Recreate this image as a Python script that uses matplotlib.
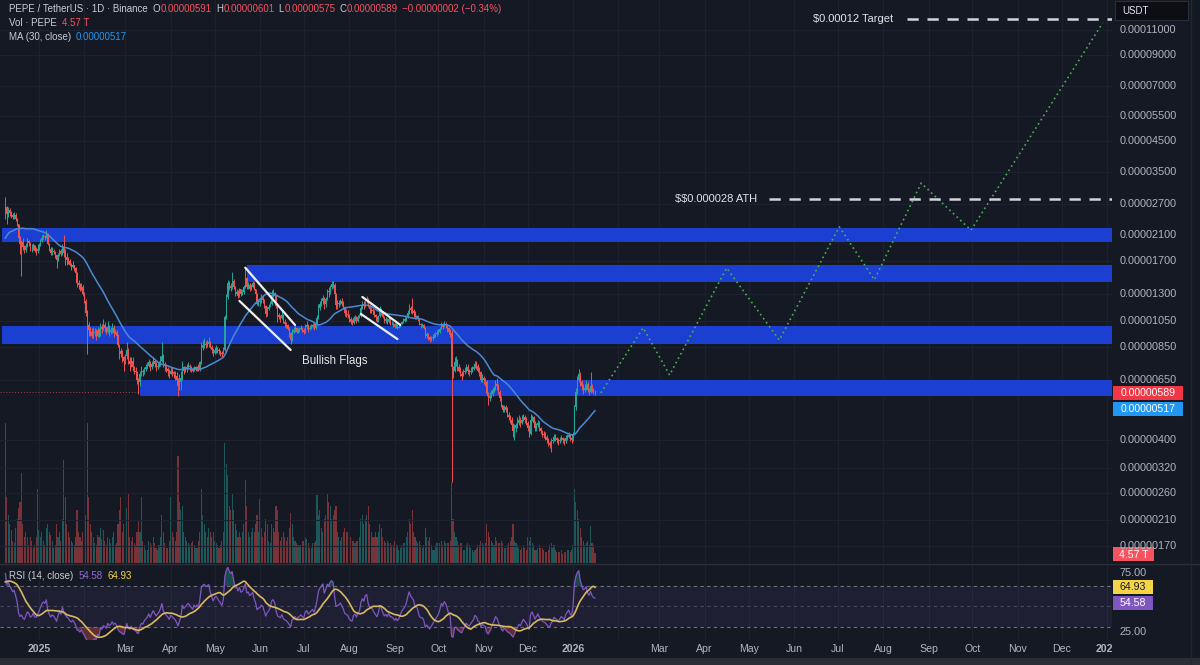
import datetime as dt
import numpy as np
import pandas as pd
import matplotlib
matplotlib.use("Agg")
import matplotlib.pyplot as plt
import matplotlib.dates as mdates
from matplotlib.patches import Rectangle
from matplotlib.colors import to_rgba
from matplotlib.transforms import Bbox

plt.rcParams['font.family'] = ['Liberation Sans', 'DejaVu Sans']

# ------------------------------------------------------------------ data
UNIT = 1e-8            # prices below are in units of 1e-8 USDT
first_day = "2024-12-09"

# closes Nov 9 - Dec 8 2024 (off-screen, only seed the MA / RSI)
warmup_close = [1150, 1200, 1500, 1750, 2100, 2200, 2050, 1900, 1950, 1980,
                1900, 1850, 1900, 2000, 2050, 2020, 1900, 1850, 1950, 2000,
                2050, 2100, 2200, 2150, 2200, 2250, 2300, 2350, 2500, 2550]

close = [
    # Dec 2024 (9-31)
    2620, 2480, 2560, 2500, 2470, 2420, 2460, 2380, 2290, 2050, 1950, 1980, 1900, 1860, 1920,
    1990, 1960, 1870, 1880, 1930, 1850, 1840, 1880,
    # Jan 2025
    1930, 1990, 2050, 2080, 2060, 2120, 1950, 1880, 1820, 1850, 1830, 1780, 1720, 1790, 1850,
    1800, 1900, 1820, 1760, 1720, 1700, 1650, 1620, 1640, 1600, 1540, 1420, 1400, 1360, 1380, 1300,
    # Feb
    1230, 1120, 1010, 970, 960, 930, 950, 960, 930, 970, 940, 1000, 980, 1010, 990,
    960, 1000, 960, 970, 990, 950, 960, 930, 860, 820, 800, 780, 760,
    # Mar
    790, 830, 760, 740, 760, 720, 700, 690, 650, 640, 680, 700, 690, 710, 720,
    730, 750, 720, 740, 760, 740, 720, 730, 740, 760, 790, 740, 730, 710, 700, 680,
    # Apr
    700, 690, 680, 670, 650, 620, 640, 660, 720, 700, 710, 720, 730, 720, 710,
    700, 720, 710, 720, 710, 750, 840, 860, 870, 860, 870, 880, 850, 830, 810,
    # May
    830, 840, 830, 820, 810, 800, 830, 1080, 1270, 1420, 1390, 1370, 1450, 1380, 1300,
    1320, 1280, 1350, 1300, 1320, 1380, 1480, 1380, 1400, 1360, 1380, 1420, 1350, 1300, 1200, 1220,
    # Jun
    1230, 1260, 1240, 1180, 1110, 1150, 1170, 1200, 1290, 1310, 1280, 1180, 1100, 1080, 1070,
    1100, 1040, 1020, 1010, 980, 950, 900, 960, 970, 990, 960, 970, 980, 990, 970,
    # Jul
    960, 1000, 1010, 980, 990, 1000, 1010, 990, 1020, 1070, 1160, 1200, 1230, 1260, 1200,
    1250, 1330, 1320, 1380, 1410, 1400, 1300, 1190, 1200, 1210, 1230, 1200, 1170, 1120, 1110, 1100,
    # Aug
    1060, 1040, 1030, 1070, 1080, 1050, 1080, 1090, 1160, 1200, 1180, 1240, 1250, 1180, 1150,
    1140, 1130, 1100, 1080, 1060, 1090, 1140, 1120, 1080, 1050, 1060, 1040, 1060, 1030, 1030, 1020,
    # Sep
    1000, 1010, 990, 1000, 1020, 1040, 1050, 1060, 1080, 1120, 1160, 1140, 1130, 1120, 1080,
    1090, 1060, 1020, 1010, 1010, 990, 930, 940, 920, 900, 910, 920, 930, 940, 950,
    # Oct
    960, 980, 1010, 1000, 1020, 1010, 990, 960, 950, 720, 700, 750, 760, 720, 700,
    680, 670, 690, 700, 720, 700, 690, 700, 710, 720, 740, 730, 700, 690, 650, 660,
    # Nov
    650, 640, 580, 560, 570, 580, 600, 610, 630, 620, 590, 560, 530, 510, 520,
    510, 490, 480, 470, 450, 430, 440, 450, 460, 470, 460, 470, 480, 470, 460,
    # Dec
    440, 420, 470, 480, 460, 440, 450, 460, 440, 430, 420, 415, 410, 400, 390,
    385, 395, 400, 410, 405, 400, 395, 400, 405, 400, 395, 405, 410, 415, 405, 400,
    # Jan 2026 (1-16)
    420, 520, 590, 650, 680, 640, 620, 600, 610, 630, 600, 590, 620, 600, 591, 589,
]

high = [
    2840, 2650, 2620, 2600, 2540, 2500, 2520, 2510, 2400, 2300, 2080, 2010, 2040, 1940, 1960,
    2050, 2010, 1980, 1950, 1960, 1940, 1900, 1950,
    1960, 2030, 2100, 2120, 2100, 2180, 2130, 1970, 1900, 1900, 1870, 1840, 1790, 1820, 1880,
    1870, 1950, 2100, 1870, 1820, 1760, 1730, 1670, 1700, 1650, 1620, 1550, 1460, 1420, 1420, 1400,
    1320, 1250, 1140, 1040, 1000, 990, 1000, 990, 980, 1000, 990, 1030, 1020, 1060, 1040,
    1000, 1050, 1010, 1000, 1030, 1010, 980, 970, 940, 870, 840, 830, 790,
    800, 880, 840, 780, 780, 780, 730, 720, 700, 660, 700, 730, 710, 720, 740,
    750, 770, 760, 760, 780, 770, 750, 750, 760, 790, 880, 800, 750, 740, 720, 710,
    720, 720, 700, 700, 690, 660, 680, 700, 760, 730, 730, 740, 750, 740, 730,
    720, 730, 730, 730, 740, 760, 880, 900, 910, 890, 900, 920, 890, 860, 840,
    850, 860, 850, 840, 830, 820, 850, 1100, 1300, 1460, 1450, 1420, 1550, 1470, 1390,
    1350, 1340, 1370, 1360, 1350, 1400, 1620, 1490, 1430, 1420, 1410, 1440, 1430, 1360, 1310, 1250,
    1260, 1300, 1290, 1250, 1190, 1180, 1200, 1230, 1340, 1350, 1320, 1290, 1190, 1120, 1100,
    1130, 1110, 1060, 1040, 1020, 1000, 960, 980, 1000, 1020, 1000, 990, 1000, 1010, 1000,
    990, 1020, 1050, 1020, 1010, 1020, 1030, 1030, 1040, 1100, 1200, 1230, 1260, 1290, 1270,
    1270, 1360, 1380, 1400, 1440, 1450, 1420, 1310, 1240, 1240, 1250, 1260, 1230, 1180, 1150, 1140,
    1110, 1080, 1060, 1090, 1100, 1090, 1100, 1110, 1190, 1230, 1230, 1260, 1280, 1260, 1200,
    1170, 1160, 1140, 1110, 1090, 1100, 1180, 1160, 1130, 1090, 1080, 1070, 1080, 1070, 1050, 1040,
    1030, 1030, 1020, 1010, 1030, 1050, 1070, 1080, 1100, 1140, 1200, 1180, 1260, 1150, 1130,
    1100, 1100, 1070, 1030, 1030, 1020, 1000, 960, 950, 930, 930, 940, 950, 960, 970,
    980, 1000, 1040, 1030, 1050, 1040, 1020, 1000, 980, 970, 730, 780, 790, 770, 740,
    720, 700, 710, 720, 740, 740, 710, 720, 730, 740, 760, 760, 740, 720, 700, 680,
    670, 660, 650, 590, 590, 600, 610, 620, 650, 660, 630, 600, 570, 530, 530,
    530, 520, 500, 490, 480, 460, 455, 460, 480, 490, 480, 490, 495, 490, 480,
    465, 450, 495, 490, 485, 465, 460, 470, 465, 445, 435, 430, 425, 415, 405,
    395, 405, 410, 420, 420, 410, 405, 410, 415, 410, 405, 415, 420, 425, 420, 410,
    425, 530, 610, 670, 710, 690, 650, 630, 630, 650, 640, 610, 690, 630, 610, 601,
]

low = [
    2380, 2300, 2420, 2440, 2400, 2380, 2390, 2350, 2250, 2010, 1800, 1500, 1860, 1820, 1830,
    1900, 1920, 1840, 1830, 1860, 1830, 1780, 1820,
    1860, 1920, 1980, 2030, 2010, 2040, 1930, 1840, 1780, 1790, 1800, 1740, 1610, 1700, 1770,
    1770, 1790, 1760, 1650, 1650, 1660, 1630, 1580, 1600, 1570, 1530, 1380, 1360, 1330, 1340, 1280,
    1210, 1090, 800, 930, 930, 910, 910, 930, 900, 920, 920, 930, 950, 970, 960,
    940, 950, 930, 940, 950, 920, 940, 910, 850, 770, 780, 750, 700,
    740, 770, 740, 700, 720, 700, 680, 660, 630, 580, 620, 670, 670, 680, 700,
    710, 720, 700, 710, 730, 720, 700, 710, 720, 730, 750, 720, 700, 690, 670, 660,
    680, 670, 660, 650, 640, 570, 600, 600, 650, 680, 690, 690, 710, 700, 690,
    690, 700, 700, 700, 700, 700, 740, 830, 840, 840, 850, 850, 840, 810, 790,
    800, 810, 810, 800, 790, 780, 800, 820, 1060, 1250, 1340, 1330, 1360, 1360, 1280,
    1290, 1260, 1270, 1280, 1290, 1300, 1370, 1360, 1360, 1330, 1340, 1370, 1340, 1280, 1190, 1180,
    1180, 1210, 1210, 1160, 1080, 1090, 1140, 1170, 1190, 1270, 1260, 1160, 1040, 1060, 1040,
    1060, 1030, 1000, 990, 970, 920, 870, 890, 950, 960, 950, 950, 960, 970, 960,
    940, 950, 980, 960, 970, 980, 990, 970, 980, 1010, 1060, 1140, 1180, 1200, 1150,
    1170, 1240, 1270, 1300, 1350, 1370, 1280, 1150, 1150, 1170, 1190, 1180, 1150, 1090, 1080, 1070,
    1040, 1020, 1010, 1020, 1050, 1030, 1040, 1070, 1080, 1150, 1150, 1170, 1210, 1170, 1120,
    1120, 1110, 1080, 1050, 1040, 1040, 1080, 1100, 1070, 1030, 1030, 1020, 1030, 1010, 1010, 1000,
    990, 990, 980, 985, 1000, 1020, 1030, 1040, 1050, 1070, 1110, 1120, 1110, 1090, 1060,
    1060, 1050, 1010, 990, 995, 980, 910, 910, 900, 880, 890, 900, 910, 920, 930,
    940, 950, 990, 980, 995, 990, 960, 940, 920, 285, 660, 690, 730, 700, 690,
    670, 650, 670, 680, 690, 680, 670, 680, 695, 705, 715, 710, 690, 670, 640, 640,
    630, 620, 570, 530, 550, 560, 570, 590, 600, 600, 580, 550, 520, 500, 500,
    500, 480, 470, 460, 440, 410, 400, 425, 440, 450, 445, 455, 465, 460, 450,
    430, 410, 415, 465, 450, 430, 430, 445, 430, 420, 410, 405, 400, 390, 380,
    375, 363, 390, 395, 395, 390, 385, 390, 395, 390, 385, 390, 400, 405, 395, 390,
    398, 415, 510, 580, 640, 620, 600, 580, 590, 600, 590, 575, 585, 590, 580, 575,
]

volume_t = [  # trillions of PEPE
    64, 30, 22, 18, 15, 10, 9, 16, 20, 25, 28, 41, 18, 12, 14, 12, 8, 12, 10, 7, 8, 12, 34,
    15, 12, 14, 10, 8, 16, 18, 14, 13, 10, 7, 8, 18, 12, 14, 10, 20, 47, 30, 18, 14, 12, 10, 9, 8, 12, 24, 14, 12, 10, 14,
    16, 22, 64, 30, 18, 14, 12, 9, 8, 13, 12, 16, 11, 15, 10, 8, 12, 11, 9, 12, 14, 8, 9, 18, 24, 30, 14, 18,
    14, 25, 32, 12, 10, 12, 9, 8, 14, 19, 14, 30, 10, 8, 6, 6, 10, 9, 8, 12, 9, 7, 6, 8, 12, 22, 14, 9, 7, 7, 10,
    30, 14, 12, 10, 14, 49, 28, 24, 26, 14, 12, 10, 9, 8, 9, 10, 8, 7, 7, 10, 14, 34, 22, 18, 14, 12, 16, 14, 12, 14,
    10, 9, 8, 7, 8, 10, 14, 55, 45, 40, 26, 24, 32, 24, 18, 15, 12, 14, 12, 14, 18, 38, 26, 14, 12, 14, 16, 14, 18, 22, 14,
    29, 16, 12, 14, 20, 18, 10, 9, 18, 16, 14, 26, 24, 14, 10, 12, 14, 12, 10, 12, 16, 23, 18, 12, 10, 9, 8, 8, 8, 10,
    10, 12, 11, 9, 7, 7, 9, 9, 10, 31, 22, 24, 16, 14, 20, 22, 32, 28, 26, 20, 22, 24, 26, 14, 12, 10, 12, 14, 16, 14, 14,
    14, 12, 10, 10, 9, 10, 10, 12, 20, 22, 18, 20, 22, 26, 18, 14, 12, 12, 14, 12, 14, 18, 16, 12, 10, 9, 10, 9, 9, 8, 8,
    10, 8, 8, 6, 7, 8, 9, 9, 12, 14, 20, 18, 24, 14, 12, 10, 9, 10, 8, 7, 8, 16, 12, 10, 12, 8, 6, 6, 8, 9,
    8, 9, 10, 8, 10, 9, 9, 9, 10, 37, 20, 14, 12, 10, 8, 9, 9, 6, 6, 8, 9, 8, 7, 6, 5, 6, 7, 8, 8, 10, 9,
    8, 9, 18, 14, 12, 10, 9, 8, 12, 10, 9, 9, 10, 9, 7, 7, 8, 9, 10, 12, 18, 10, 9, 8, 7, 6, 7, 8, 7, 6,
    12, 10, 12, 9, 8, 6, 6, 7, 8, 7, 7, 6, 5, 5, 6, 8, 9, 7, 8, 6, 5, 5, 5, 6, 4, 5, 5, 6, 6, 5, 6,
    8, 34, 28, 24, 20, 16, 12, 10, 8, 9, 10, 8, 17, 9, 8, 4.57,
]

ma_period = 30
rsi_period = 14

price_ticks = [11000, 9000, 7000, 5500, 4500, 3500, 2700, 2100, 1700, 1300, 1050, 850, 650,
               400, 320, 260, 210, 170]
rsi_ticks = [75, 25]

band_start = ["2024-12-07", "2025-05-23", "2024-12-07", "2025-03-11"]
band_low = [1980, 1434, 869, 571]
band_high = [2220, 1646, 1005, 649]

flag_line_dates = [["2025-05-22", "2025-06-25"], ["2025-05-18", "2025-06-22"],
                   ["2025-08-10", "2025-09-05"], ["2025-08-09", "2025-09-03"]]
flag_line_prices = [[1610, 1013], [1231, 828], [1271, 1013], [1108, 904]]
flag_label = "Bullish Flags"
flag_label_at = ("2025-07-22", 757)

proj_dates = ["2026-01-20", "2026-02-18", "2026-03-08", "2026-04-16", "2026-05-22",
              "2026-07-02", "2026-07-26", "2026-08-27", "2026-09-30", "2026-12-29"]
proj_prices = [585, 990, 676, 1606, 897, 2240, 1460, 3190, 2180, 11640]

target_price, target_from, target_label, target_text_at = 12000, "2026-08-17", "$0.00012 Target", "2026-08-08"
ath_price, ath_from, ath_label, ath_text_at = 2800, "2026-05-15", "$$0.000028 ATH", "2026-05-07"

time_label_dates = ["2025-01-01", "2025-03-01", "2025-04-01", "2025-05-01", "2025-06-01", "2025-07-01",
                    "2025-08-01", "2025-09-01", "2025-10-01", "2025-11-01", "2025-12-01", "2026-01-01",
                    "2026-03-01", "2026-04-01", "2026-05-01", "2026-06-01", "2026-07-01", "2026-08-01",
                    "2026-09-01", "2026-10-01", "2026-11-01", "2026-12-01", "2027-01-01"]
time_labels = ["2025", "Mar", "Apr", "May", "Jun", "Jul", "Aug", "Sep", "Oct", "Nov", "Dec", "2026",
               "Mar", "Apr", "May", "Jun", "Jul", "Aug", "Sep", "Oct", "Nov", "Dec", "2027"]

header_title = "PEPE / TetherUS · 1D · Binance"
header_ohlc = [("O", "0.00000591"), ("H", "0.00000601"), ("L", "0.00000575"), ("C", "0.00000589")]
header_change = "−0.00000002 (−0.34%)"
last_close_txt, ma_txt, vol_txt = "0.00000589", "0.00000517", "4.57 T"
rsi_txt, rsi_ma_txt = "54.58", "64.93"

# ------------------------------------------------------------------ style
BG = "#151924"
GRID = "#1d2130"
TXT = "#b2b5be"
LIGHT = "#c9ccd4"
GREEN = "#26a69a"
RED = "#ef5350"
BAND = "#1b3fd1"
MA_COL = "#4a8ad4"
RSI_COL = "#7e57c2"
RSI_MA_COL = "#d9b95e"

W, H = 1200, 665
PANE_R = 1112
PRICE_BOT = 563
RSI_TOP, RSI_BOT = 565, 640
TAG_MA = (580, 594)
TAG_RSI = (596, 610)


def dn(s):
    return mdates.date2num(dt.datetime.fromisoformat(s))


fig = plt.figure(figsize=(W / 100, H / 100), dpi=100, facecolor=BG)


def ftext(xp, yp, s, **kw):
    return fig.text(xp / W, 1 - yp / H, s, **kw)


def frect(x0, y0, x1, y1, **kw):
    r = Rectangle((x0 / W, 1 - y1 / H), (x1 - x0) / W, (y1 - y0) / H,
                  transform=fig.transFigure, **kw)
    fig.patches.append(r)
    return r


rect_price = [0, 1 - PRICE_BOT / H, PANE_R / W, PRICE_BOT / H]
axv = fig.add_axes(rect_price)
ax = fig.add_axes(rect_price)
axr = fig.add_axes([0, 1 - RSI_BOT / H, PANE_R / W, (RSI_BOT - RSI_TOP) / H])

x_jan25 = dn("2025-01-01")
xlim = (x_jan25 - 26.66, x_jan25 + 733.4)

for a in (axv, ax, axr):
    a.set_xlim(*xlim)
    for sp in a.spines.values():
        sp.set_visible(False)
    a.set_xticks([])
    a.set_yticks([])
axv.set_facecolor(BG)
ax.patch.set_visible(False)
axr.set_facecolor(BG)

# ------------------------------------------------------------------ series
n = min(len(close), len(high), len(low), len(volume_t))
c = np.array(close[:n], float) * UNIT
h = np.array(high[:n], float) * UNIT
l = np.array(low[:n], float) * UNIT
o = np.concatenate([[warmup_close[-1]], close[:n - 1]]).astype(float) * UNIT
v = np.array(volume_t[:n], float)
x = dn(first_day) + np.arange(n)

allc = pd.Series(np.concatenate([np.array(warmup_close, float) * UNIT, c]))
ma = allc.rolling(ma_period).mean().values[-n:]
d = allc.diff()
ru = d.clip(lower=0).ewm(alpha=1 / rsi_period, adjust=False).mean()
rd = (-d).clip(lower=0).ewm(alpha=1 / rsi_period, adjust=False).mean()
rsi_all = 100 - 100 / (1 + ru / rd)
rsi = rsi_all.values[-n:]
rsi_ma = rsi_all.rolling(rsi_period).mean().values[-n:]

# ------------------------------------------------------------------ price pane
ax.set_yscale("log")
ax.set_ylim(1.479e-6, 1.402e-4)
ax.minorticks_off()
ax.set_yticks([])

month_lines = pd.date_range("2024-12-01", "2027-01-01", freq="MS")
for m in month_lines:
    mx = mdates.date2num(m.to_pydatetime())
    ax.axvline(mx, color=GRID, lw=0.8, zorder=0)
    axr.axvline(mx, color=GRID, lw=0.8, zorder=0)
for p in price_ticks:
    ax.axhline(p * UNIT, color=GRID, lw=0.8, zorder=0)

ax.axhline(c[-1], color=RED, lw=0.7, ls=(0, (1, 2)), alpha=0.7, zorder=1)

for s0, lo_, hi_ in zip(band_start, band_low, band_high):
    ax.fill_between([dn(s0), xlim[1]], lo_ * UNIT, hi_ * UNIT, color=BAND, lw=0, zorder=2)

up = c >= o
cols = np.where(up, GREEN, RED)
ax.vlines(x, np.minimum(l, np.minimum(o, c)), np.maximum(h, np.maximum(o, c)),
          colors=cols, lw=0.7, zorder=4)
ax.bar(x, np.maximum(o, c) - np.minimum(o, c), bottom=np.minimum(o, c), width=0.75,
       color=cols, lw=0, zorder=5)

ax.plot(x, ma, color=MA_COL, lw=1.1, zorder=6)

for dd, pp in zip(flag_line_dates, flag_line_prices):
    ax.plot([dn(dd[0]), dn(dd[1])], [pp[0] * UNIT, pp[1] * UNIT], color="#eeeeee",
            lw=1.6, solid_capstyle="round", zorder=7)
ax.text(dn(flag_label_at[0]), flag_label_at[1] * UNIT, flag_label, color="#e6e6e6",
        fontsize=8.3, ha="center", va="center", zorder=8)

ax.plot([dn(s) for s in proj_dates], np.array(proj_prices) * UNIT, color="#4caf50",
        lw=1.2, ls=(0, (1, 2)), zorder=7)

ax.hlines(target_price * UNIT, dn(target_from), xlim[1], color="#d1d4dc", lw=1.8,
          linestyles=(0, (4.5, 3.5)), zorder=7)
ax.text(dn(target_text_at), target_price * UNIT, target_label, color="#e0e3eb",
        fontsize=8, ha="right", va="center", parse_math=False, zorder=8)
ax.hlines(ath_price * UNIT, dn(ath_from), xlim[1], color="#d1d4dc", lw=1.8,
          linestyles=(0, (4.5, 3.5)), zorder=7)
ax.text(dn(ath_text_at), ath_price * UNIT, ath_label, color="#e0e3eb",
        fontsize=8, ha="right", va="center", parse_math=False, zorder=8)

# volume
axv.set_ylim(0, 257)
vcols = [to_rgba(GREEN if u else RED, 0.45) for u in up]
axv.bar(x, v, width=0.75, color=vcols, lw=0)

# ------------------------------------------------------------------ RSI pane
axr.set_ylim(17.3, 90.5)
axr.axhspan(30, 70, color=RSI_COL, alpha=0.10, lw=0, zorder=0)
for lev, al in ((70, 0.9), (50, 0.45), (30, 0.9)):
    axr.axhline(lev, color="#787b86", lw=0.8, ls=(0, (3, 3)), alpha=al, zorder=1)
axr.fill_between(x, 70, rsi, where=rsi > 70, interpolate=True, color=GREEN, alpha=0.35, lw=0, zorder=2)
axr.fill_between(x, 30, rsi, where=rsi < 30, interpolate=True, color=RED, alpha=0.35, lw=0, zorder=2)
axr.plot(x, rsi, color=RSI_COL, lw=0.9, zorder=3)
axr.plot(x, rsi_ma, color=RSI_MA_COL, lw=1.2, zorder=4)

# ------------------------------------------------------------------ frame bits
fig.lines.append(plt.Line2D([0, 1], [1 - 564 / H] * 2, transform=fig.transFigure, color="#2a2e39", lw=1))
fig.lines.append(plt.Line2D([1191 / W] * 2, [0, 1], transform=fig.transFigure, color="#232733", lw=1))
frect(0, 658, W, H, color="#2a2d35", lw=0)

# right price axis labels
for p in price_ticks:
    yp = H - ax.transData.transform((xlim[0], p * UNIT))[1]
    ftext(1120, yp, f"{p * UNIT:.8f}", color=TXT, fontsize=7.8, va="center", ha="left")

# RSI scale labels (kept clear of the value tags)
for rv in rsi_ticks:
    yp = H - axr.transData.transform((xlim[0], rv))[1]
    if TAG_MA[0] - 7 < yp < TAG_RSI[1] + 7:
        yp = TAG_MA[0] - 7
    ftext(1120, yp, f"{rv:.2f}", color=TXT, fontsize=7.8, va="center", ha="left")

# time axis labels
for ds, lab in zip(time_label_dates, time_labels):
    xp = axr.transData.transform((dn(ds), 0))[0]
    bold = lab.isdigit()
    t = ftext(xp, 649, lab, color=TXT, fontsize=7.6, ha="center", va="center",
              fontweight="bold" if bold else "normal")
    t.set_clip_box(Bbox.from_extents(0, 0, PANE_R, H))
    t.set_clip_on(True)


# tags on the right axis
def tag(x0, y0, x1, y1, s, fc, tc):
    frect(x0, y0, x1, y1, color=fc, lw=0)
    ftext((x0 + x1) / 2, (y0 + y1) / 2 + 0.5, s, color=tc, fontsize=7.6, ha="center", va="center")


tag(1113, 386, 1183, 400, last_close_txt, "#f23645", "white")
tag(1113, 402, 1183, 416, ma_txt, "#2196f3", "white")
tag(1113, 547, 1154, 561, vol_txt, "#f7525f", "white")
tag(1113, TAG_MA[0], 1153, TAG_MA[1], rsi_ma_txt, "#f5d547", "#131722")
tag(1113, TAG_RSI[0], 1153, TAG_RSI[1], rsi_txt, "#7e57c2", "white")

# USDT box
frect(1115, 1, 1188, 20, facecolor="#0c0e13", edgecolor="#2a2e39", lw=0.8)
ftext(1122, 10.5, "USDT", color="#e0e3eb", fontsize=7, ha="left", va="center")

# header legends
renderer = fig.canvas.get_renderer()


def seg_line(x0, y, parts, size=7):
    xx = x0
    for s, col, gap in parts:
        t = ftext(xx, y, s, color=col, fontsize=size, ha="left", va="center")
        xx += t.get_window_extent(renderer).width + gap


line1 = [(header_title, LIGHT, 5)]
for k, val in header_ohlc:
    line1 += [(k, LIGHT, 0.5), (val, "#f7525f", 4)]
line1 += [(header_change, "#f7525f", 0)]
seg_line(9, 9, line1)
seg_line(9, 23, [("Vol · PEPE", LIGHT, 5), (vol_txt, "#f7525f", 0)])
seg_line(9, 37, [("MA (30, close)", LIGHT, 5), (ma_txt, "#2196f3", 0)])
seg_line(9, 576, [("RSI (14, close)", LIGHT, 5), (rsi_txt, "#8e6cd6", 5), (rsi_ma_txt, "#f5d547", 0)])

fig.savefig("out.png", dpi=100, facecolor=BG)
